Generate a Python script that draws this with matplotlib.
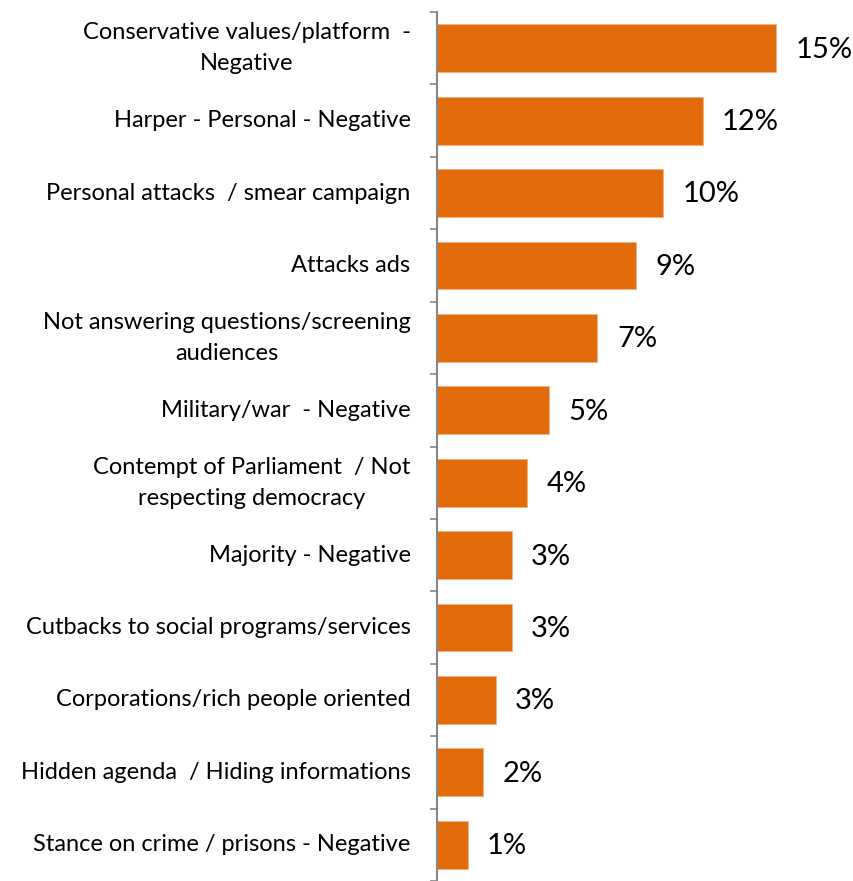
import matplotlib
matplotlib.use("Agg")
import matplotlib.pyplot as plt
import numpy as np

categories = [
    "Conservative values/platform  -\nNegative",
    "Harper - Personal - Negative",
    "Personal attacks  / smear campaign",
    "Attacks ads",
    "Not answering questions/screening\naudiences",
    "Military/war  - Negative",
    "Contempt of Parliament  / Not\nrespecting democracy",
    "Majority - Negative",
    "Cutbacks to social programs/services",
    "Corporations/rich people oriented",
    "Hidden agenda  / Hiding informations",
    "Stance on crime / prisons - Negative",
]
values = [15.0, 11.75, 10.0, 8.8, 7.1, 4.95, 4.0, 3.3, 3.3, 2.6, 2.05, 1.35]

BAR_COLOR = "#E36C0A"
AXIS_COLOR = "#868686"
FONT = ["Lato", "DejaVu Sans"]

W, H = 854, 881
fig = plt.figure(figsize=(W / 100, H / 100), dpi=100)
ax_left = 437 / W
ax_top = 12 / H
ax = fig.add_axes([ax_left, 0.0, 1 - ax_left, 1 - ax_top])

n = len(categories)
y = np.arange(n)
ax.barh(y, values, height=0.66, color=BAR_COLOR, edgecolor="#F4B183", linewidth=0.6)

px_per_unit = 22.6
ax.set_xlim(0, (W - 437) / px_per_unit)
ax.set_ylim(n - 0.5, -0.5)

for yi, v in zip(y, values):
    ax.annotate(f"{v:.0f}%", xy=(v, yi), xytext=(14, -1), textcoords="offset points",
                ha="left", va="center", fontsize=21, family=FONT, color="black")

# category labels
ax.set_yticks(y)
ax.set_yticklabels(categories, family=FONT, fontsize=17, multialignment="center",
                   linespacing=1.6, va="center")
ax.tick_params(axis="y", which="major", length=0, pad=19)
ax.set_yticks(np.arange(-0.5, n, 1.0), minor=True)
ax.tick_params(axis="y", which="minor", length=5, width=1.2, color=AXIS_COLOR, direction="out")
ax.set_xticks([])

for side in ("top", "right", "bottom"):
    ax.spines[side].set_visible(False)
ax.spines["left"].set_color(AXIS_COLOR)
ax.spines["left"].set_linewidth(1.5)
ax.patch.set_alpha(0)

fig.savefig("out.png", dpi=100, facecolor="white")
